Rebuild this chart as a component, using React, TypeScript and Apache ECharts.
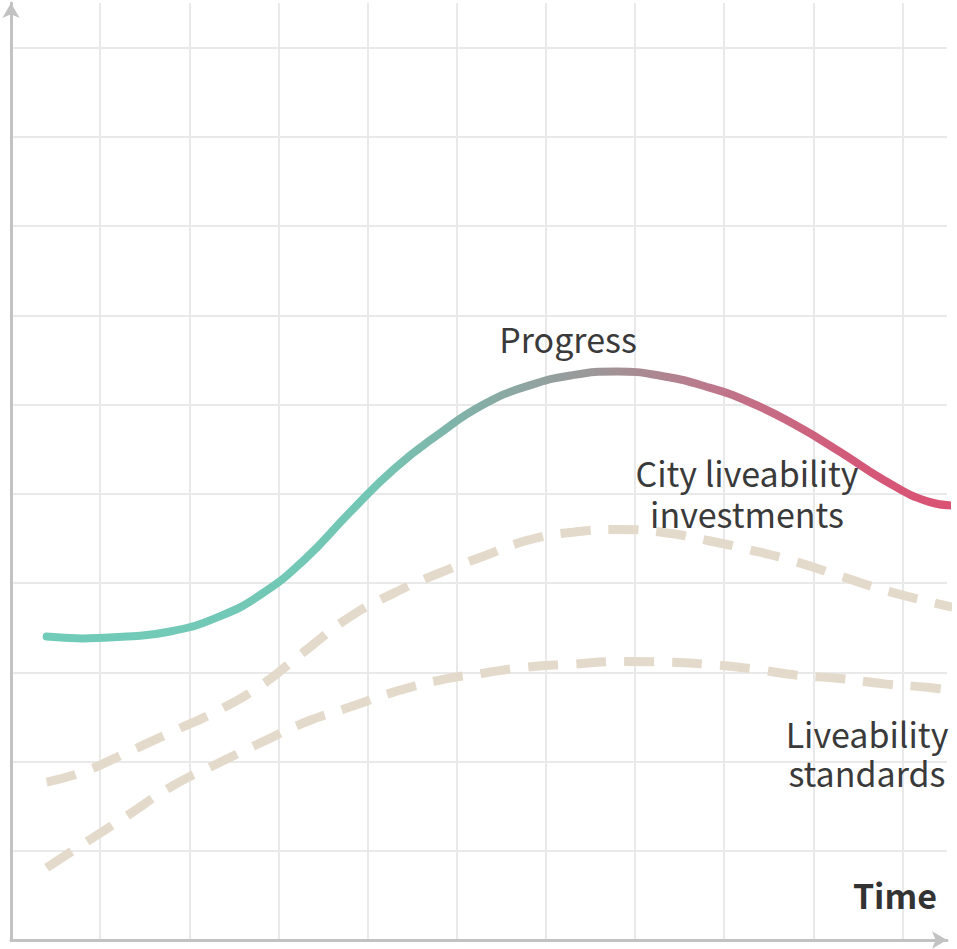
import React, { useEffect, useRef } from "react";
import * as echarts from "echarts";

// Time positions (grid units along the x axis) and curve values (grid units up the y axis)
const progressX = [0.4, 0.8, 1.3, 1.8, 2.3, 2.8, 3.3, 3.8, 4.3, 4.8, 5.3, 5.8, 6.3, 6.8, 7.3, 7.8, 8.3, 8.8, 9.3, 9.8, 10.3, 10.56];
const progressY = [3.4, 3.38, 3.4, 3.46, 3.61, 3.87, 4.27, 4.79, 5.28, 5.67, 6.0, 6.21, 6.33, 6.37, 6.32, 6.2, 6.02, 5.77, 5.47, 5.15, 4.91, 4.87];

const investX = [0.4, 0.8, 1.3, 1.8, 2.3, 2.8, 3.3, 3.8, 4.3, 4.8, 5.3, 5.8, 6.3, 6.8, 7.3, 7.8, 8.3, 8.8, 9.3, 9.8, 10.3, 10.56];
const investY = [1.77, 1.88, 2.1, 2.33, 2.56, 2.85, 3.24, 3.62, 3.89, 4.11, 4.3, 4.48, 4.57, 4.6, 4.57, 4.48, 4.37, 4.24, 4.08, 3.92, 3.79, 3.73];

const standardsX = [0.4, 0.8, 1.3, 1.8, 2.3, 2.8, 3.3, 3.8, 4.3, 4.8, 5.3, 5.8, 6.3, 6.8, 7.3, 7.8, 8.3, 8.8, 9.3, 9.8, 10.3, 10.58];
const standardsY = [0.81, 1.07, 1.39, 1.72, 1.97, 2.21, 2.44, 2.61, 2.78, 2.91, 2.99, 3.06, 3.09, 3.12, 3.115, 3.09, 3.04, 2.97, 2.93, 2.87, 2.83, 2.79];

const seriesNames = ["Progress", "City liveability investments", "Liveability standards"];
const labelLines = [["Progress"], ["City liveability", "investments"], ["Liveability", "standards"]];
const axisName = "Time";

const zip = (xs: number[], ys: number[]) => xs.map((x, i) => [x, ys[i]]);

export default function App() {
  const ref = useRef<HTMLDivElement>(null);
  useEffect(() => {
    if (!ref.current) return;
    const chart = echarts.init(ref.current, null, { renderer: "svg" });
    const font = "'Noto Sans CJK KR', 'Noto Sans', sans-serif";
    const textColor = "#3a3a3a";
    const gridLine = { show: true, showMinLine: false, showMaxLine: false, lineStyle: { color: "#e9e9e9", width: 2 } };
    const axisLine = {
      show: true,
      symbol: ["none", "arrow"],
      symbolSize: [13, 15],
      lineStyle: { color: "#c2c2c2", width: 3 },
    };
    const dashStyle = { color: "#e3dacb", width: 9, type: [30, 18] as any, cap: "butt" as any };
    const common = {
      type: "line",
      smooth: 0.5,
      showSymbol: false,
      clip: false,
    };
    const label = (text: string, x: number, y: number, bold = false) => ({
      type: "text",
      z: 100,
      x,
      y,
      style: {
        text,
        font: `${bold ? "bold " : ""}34px ${font}`,
        fill: bold ? "#333333" : textColor,
        align: bold ? "right" : "center",
        verticalAlign: "middle",
      },
    });
    chart.setOption({
      animation: false,
      backgroundColor: "#ffffff",
      grid: { left: 11, right: 10, top: 3, bottom: 9 },
      xAxis: {
        type: "value",
        min: 0,
        max: 10.5,
        interval: 1,
        axisLine,
        axisTick: { show: false },
        axisLabel: { show: false },
        splitLine: gridLine,
      },
      yAxis: {
        type: "value",
        min: 0,
        max: 10.5,
        interval: 1,
        axisLine,
        axisTick: { show: false },
        axisLabel: { show: false },
        splitLine: gridLine,
      },
      series: [
        { ...common, name: seriesNames[2], data: zip(standardsX, standardsY), lineStyle: dashStyle, z: 2 },
        { ...common, name: seriesNames[1], data: zip(investX, investY), lineStyle: dashStyle, z: 2 },
        {
          ...common,
          name: seriesNames[0],
          data: zip(progressX, progressY),
          lineStyle: {
            width: 8,
            cap: "round",
            color: new echarts.graphic.LinearGradient(0, 0, 1, 0, [
              { offset: 0, color: "#70cbb8" },
              { offset: 0.36, color: "#74c6b4" },
              { offset: 0.45, color: "#80b3a9" },
              { offset: 0.6, color: "#9b9899" },
              { offset: 0.75, color: "#c07489" },
              { offset: 0.9, color: "#d45878" },
              { offset: 1, color: "#da5274" },
            ]),
          },
          z: 3,
        },
      ],
      graphic: [
        label(labelLines[0][0], 568, 338),
        label(labelLines[1][0], 747, 472),
        label(labelLines[1][1], 747, 513),
        label(labelLines[2][0], 867, 733),
        label(labelLines[2][1], 867, 772),
        label(axisName, 937, 894, true),
      ],
    });
    return () => chart.dispose();
  }, []);
  return <div ref={ref} style={{ position: "fixed", left: 0, top: 0, width: 957, height: 949 }} />;
}
